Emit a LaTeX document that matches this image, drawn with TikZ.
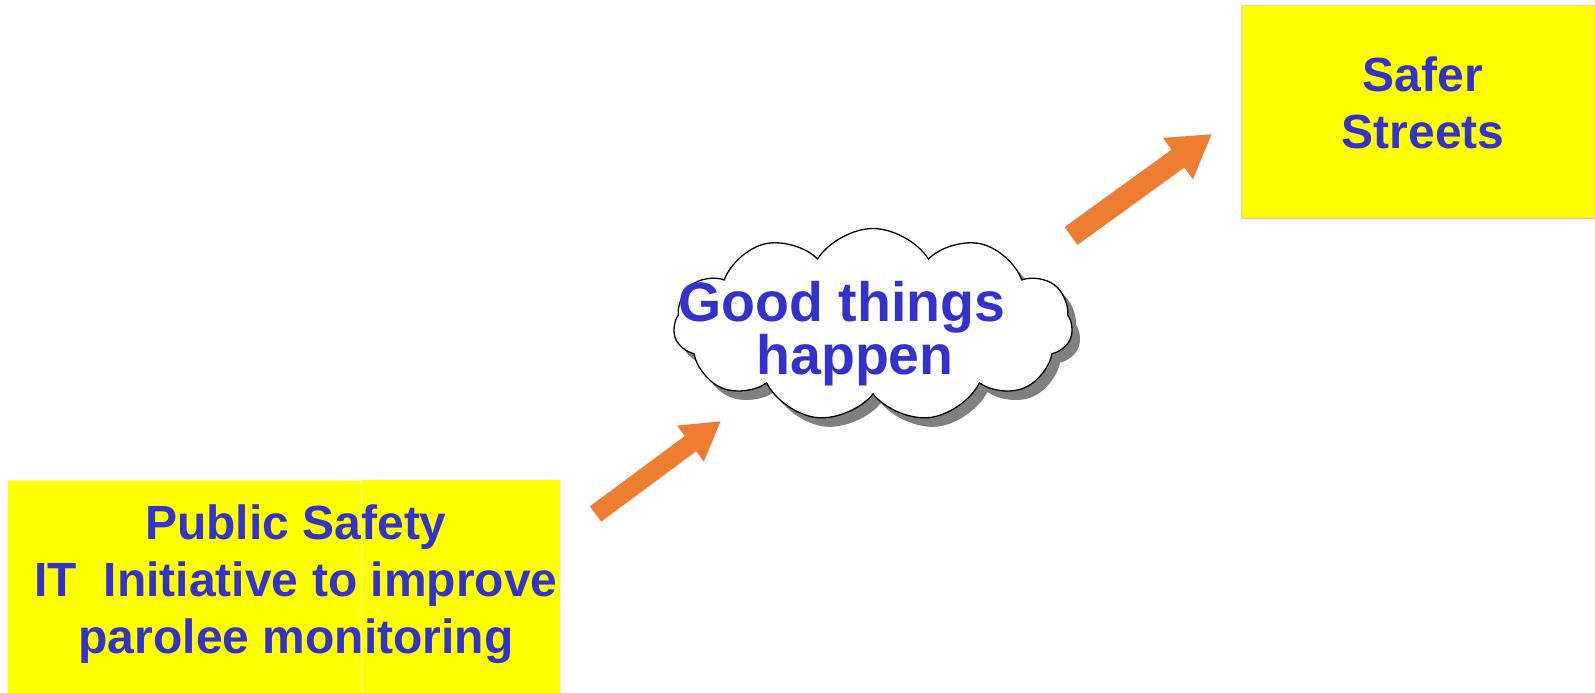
\documentclass[tikz,border=0pt]{standalone}
\usepackage{fontspec}
\setmainfont{Liberation Sans}
\usetikzlibrary{shapes.symbols,shadows,arrows.meta}
\definecolor{txtblue}{RGB}{51,51,204}
\definecolor{boxyellow}{RGB}{255,255,0}
\definecolor{arroworange}{RGB}{237,125,49}
\definecolor{paleborder}{RGB}{255,214,110}
\definecolor{seam}{RGB}{255,255,170}
\tikzset{
  box/.style={fill=boxyellow, inner sep=0pt, anchor=north west},
  boxtext/.style={text=txtblue, font=\bfseries\fontsize{48}{57}\selectfont, align=center, inner sep=0pt},
  cloudtext/.style={text=txtblue, font=\bfseries\fontsize{55.5}{43}\selectfont, align=center, inner sep=0pt},
  blockarrow/.style={draw=arroworange, line width=#1},
}
\begin{document}
\begin{tikzpicture}[x=1pt,y=-1pt]
\useasboundingbox (0,0) rectangle (1595,693);
% left box
\node[box, minimum width=552pt, minimum height=213pt] (src) at (8,480) {};
\draw[seam, line width=1pt] (src.north west) -- ([xshift=353pt]src.north west) -- ([xshift=353pt]src.south west);
\node[boxtext] (srctxt) at (296,584) {Public Safety\\IT~ Initiative to improve\\parolee monitoring};
% right box
\node[box, draw=paleborder, line width=1.5pt, minimum width=353pt, minimum height=212pt] (dst) at (1241,5) {};
\node[boxtext] (dsttxt) at (1423,103) {Safer\\Streets};
% cloud
\node[cloud, cloud puffs=11, cloud puff arc=115, aspect=2.1, draw=black, line width=1.3pt, fill=white,
      minimum width=399pt, minimum height=193pt,
      drop shadow={shadow xshift=8pt, shadow yshift=-9pt, fill=black!50, opacity=1}] (cloud) at (873,325) {};
\node[cloudtext] (cloudtxt) at (848,334) {Good things\hspace*{12pt}\\\hspace*{14pt}happen};
% arrows
\coordinate (a1s) at (595.5,514);
\coordinate (a1e) at (721,421);
\coordinate (a2s) at (1071,236);
\coordinate (a2e) at (1212,134);
\draw[blockarrow=19pt, -{Triangle[width=42pt,length=38pt]}] (a1s) -- (a1e);
\draw[blockarrow=22pt, -{Triangle[width=48pt,length=42pt]}] (a2s) -- (a2e);
\end{tikzpicture}
\end{document}
